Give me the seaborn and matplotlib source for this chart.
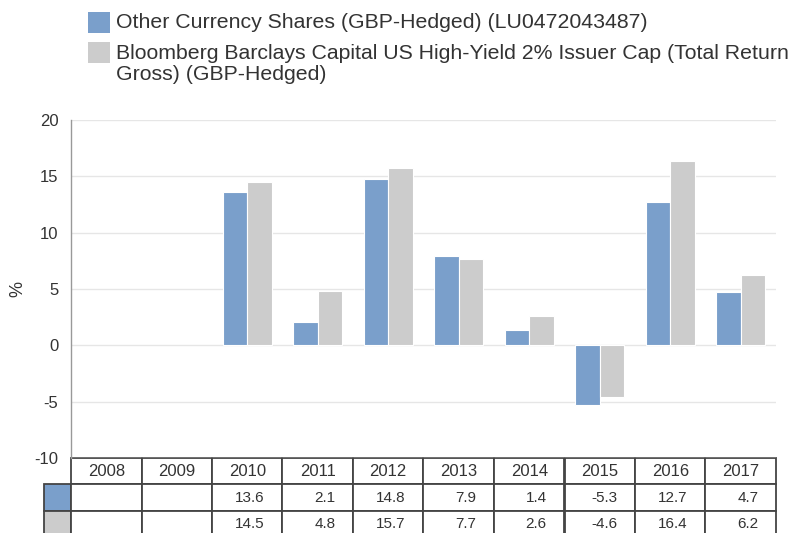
import matplotlib
matplotlib.use("Agg")
import matplotlib.pyplot as plt
from matplotlib.patches import Rectangle
import numpy as np
import pandas as pd
import seaborn as sns

# data
years = ["2008", "2009", "2010", "2011", "2012", "2013", "2014", "2015", "2016", "2017"]
fund_returns = [np.nan, np.nan, 13.6, 2.1, 14.8, 7.9, 1.4, -5.3, 12.7, 4.7]
index_returns = [np.nan, np.nan, 14.5, 4.8, 15.7, 7.7, 2.6, -4.6, 16.4, 6.2]
series_names = [
    "Other Currency Shares (GBP-Hedged) (LU0472043487)",
    "Bloomberg Barclays Capital US High-Yield 2% Issuer Cap (Total Return\nGross) (GBP-Hedged)",
]
colors = ["#7a9fcb", "#cccccc"]
text_color = "#333333"

df = pd.DataFrame({
    "year": years * 2,
    "value": fund_returns + index_returns,
    "series": [series_names[0]] * len(years) + [series_names[1]] * len(years),
})

sns.set_theme(style="white")
plt.rcParams["font.family"] = ["Liberation Sans", "DejaVu Sans"]
plt.rcParams["axes.unicode_minus"] = False

W, H = 798, 533
fig = plt.figure(figsize=(W / 100, H / 100), dpi=100)
ax = fig.add_axes([71 / W, 1 - 458 / H, 705 / W, 338 / H])

sns.barplot(data=df, x="year", y="value", hue="series", order=years,
            hue_order=series_names, palette=colors, saturation=1, width=0.7,
            edgecolor="white", linewidth=0.8, legend=False, ax=ax)

ax.set_xlim(-0.5, len(years) - 0.5)
ax.set_ylim(-10, 20)
ax.set_yticks(range(-10, 21, 5))
ax.yaxis.grid(True, color="#e6e6e6", linewidth=1)
ax.set_axisbelow(True)
ax.set_xticks([])
ax.set_xlabel("")
ax.set_ylabel("%", fontsize=13, color=text_color)
ax.yaxis.set_label_coords(-0.063, 0.5)
ax.tick_params(axis="y", length=0, pad=9, labelsize=12, labelcolor=text_color)
for side in ["top", "right", "bottom"]:
    ax.spines[side].set_visible(False)
ax.spines["left"].set_color("#999999")
ax.spines["left"].set_linewidth(1)

# data table under the chart: first column holds the series colour keys
def fmt(v):
    return "" if np.isnan(v) else f"{v:.1f}"

cell_text = [[""] + [fmt(v) for v in fund_returns],
             [""] + [fmt(v) for v in index_returns]]
cell_colours = [[colors[0]] + ["white"] * len(years),
                [colors[1]] + ["white"] * len(years)]
total_w = 732
tbl = ax.table(cellText=cell_text, cellColours=cell_colours,
               colLabels=[""] + years,
               colWidths=[27 / total_w] + [70.5 / total_w] * len(years),
               cellLoc="right", colLoc="center",
               bbox=[-27 / 705, -79 / 338, total_w / 705, 79 / 338])
tbl.auto_set_font_size(False)
for (r, c), cell in tbl.get_celld().items():
    cell.set_edgecolor("#444444")
    cell.set_linewidth(1.3)
    cell.get_text().set_color(text_color)
    if r == 0:
        cell.get_text().set_fontsize(12)
    else:
        cell.get_text().set_fontsize(11)
        cell.PAD = 0.25
    if r == 0 and c == 0:
        cell.visible_edges = ""

# legend at the top
legend_rows = [(12, 22), (42, 53)]
for (top, text_y), name, col in zip(legend_rows, series_names, colors):
    fig.patches.append(Rectangle((88 / W, 1 - (top + 21) / H), 22 / W, 21 / H,
                                 transform=fig.transFigure, facecolor=col,
                                 edgecolor="none"))
    fig.text(116 / W, 1 - (text_y - 9) / H, name, fontsize=15.3,
             color=text_color, va="top", linespacing=1.1)

fig.savefig("out.png", dpi=100)
